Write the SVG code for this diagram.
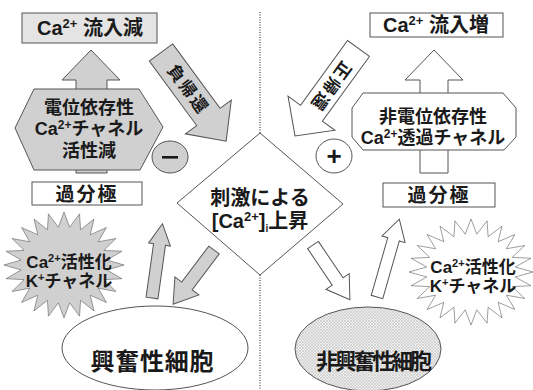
<svg xmlns="http://www.w3.org/2000/svg" width="533" height="390" viewBox="0 0 533 390">
<style>
text{font-family:"Liberation Sans","Noto Sans CJK JP",sans-serif;font-weight:bold;fill:#1a1a1a;text-anchor:middle}
.shape{stroke:#555;stroke-width:1}
.gray{fill:#d0d0d0}
.lgray{fill:#e4e4e4}
.white{fill:#fff}
.star{vector-effect:non-scaling-stroke}
</style>
<defs>
<polygon id="starshape" points="100,0 71.4,9.4 96.6,25.9 66.5,27.6 86.6,50 57.1,43.8 70.7,70.7 43.8,57.1 50,86.6 27.6,66.5 25.9,96.6 9.4,71.4 0,100 -9.4,71.4 -25.9,96.6 -27.6,66.5 -50,86.6 -43.8,57.1 -70.7,70.7 -57.1,43.8 -86.6,50 -66.5,27.6 -96.6,25.9 -71.4,9.4 -100,0 -71.4,-9.4 -96.6,-25.9 -66.5,-27.6 -86.6,-50 -57.1,-43.8 -70.7,-70.7 -43.8,-57.1 -50,-86.6 -27.6,-66.5 -25.9,-96.6 -9.4,-71.4 0,-100 9.4,-71.4 25.9,-96.6 27.6,-66.5 50,-86.6 43.8,-57.1 70.7,-70.7 57.1,-43.8 86.6,-50 66.5,-27.6 96.6,-25.9 71.4,-9.4"/>
<pattern id="hatch" width="3" height="3" patternUnits="userSpaceOnUse">
<rect width="3" height="3" fill="#eeeeee"/>
<path d="M0,3 L3,0 M0,0 L3,3" stroke="#bcbcbc" stroke-width="0.5"/>
</pattern>
</defs>

<g id="divider">
<line x1="260" y1="12" x2="260" y2="133" stroke="#444" stroke-width="1.2" stroke-dasharray="1 1.5"/>
<line x1="260" y1="275" x2="260" y2="390" stroke="#444" stroke-width="1.2" stroke-dasharray="1 1.5"/>
</g>

<g id="connectors">
<polygon class="shape gray" points="76,173 76,80 62,80 91,50 120,80 107,80 107,173"/>
<polygon class="shape white" points="420,173 420,80 405,80 434,50 463,80 448,80 448,173"/>
<g transform="translate(161,52.5) rotate(53.7)">
<polygon class="shape gray" points="0,-14.5 80,-14.5 80,-28.5 110,0 80,28.5 80,14.5 0,14.5"/>
<text x="46" y="6" font-size="17" letter-spacing="2">負帰還</text>
</g>
<g transform="translate(358.5,48.5) rotate(126)">
<polygon class="shape white" points="0,-13.5 80,-13.5 80,-29 108,0 80,29 80,13.5 0,13.5"/>
<text x="47" y="6" font-size="17" letter-spacing="2">正帰還</text>
</g>
<g transform="translate(152,298) rotate(-82)">
<polygon class="shape gray" points="0,-6 54,-6 54,-11 75,0 54,11 54,6 0,6"/>
</g>
<g transform="translate(214,250) rotate(127)">
<polygon class="shape gray" points="0,-6.5 45,-6.5 45,-15 68,0 45,15 45,6.5 0,6.5"/>
</g>
<g transform="translate(313,245) rotate(56)">
<polygon class="shape white" points="0,-6.5 44,-6.5 44,-14 66,0 44,14 44,6.5 0,6.5"/>
</g>
<g transform="translate(377,297) rotate(-74)">
<polygon class="shape white" points="0,-6 60,-6 60,-12 81,0 60,12 60,6 0,6"/>
</g>
</g>

<g id="influx-decrease">
<rect class="shape lgray" x="22" y="13" width="135" height="30"/>
<text x="90" y="35" font-size="20">Ca<tspan font-size="13" dy="-7">2+</tspan><tspan dy="7"> 流入減</tspan></text>
</g>

<g id="influx-increase">
<rect class="shape white" x="370" y="13" width="133" height="24"/>
<text x="436" y="32" font-size="20">Ca<tspan font-size="13" dy="-7">2+</tspan><tspan dy="7"> 流入増</tspan></text>
</g>

<g id="vdcc">
<polygon class="shape gray" points="15,128 34,89 139,89 163,127 140,170 34,170"/>
<text x="89" y="114" font-size="18">電位依存性</text>
<text x="89" y="135" font-size="18">Ca<tspan font-size="12" dy="-6">2+</tspan><tspan dy="6">チャネル</tspan></text>
<text x="89" y="157" font-size="18">活性減</text>
</g>

<g id="non-vdcc">
<polygon class="shape white" points="363,93 503,93 516,108 516,137 504,150 363,150 352,137 352,108"/>
<text x="433" y="123" font-size="18">非電位依存性</text>
<text x="433" y="144" font-size="18">Ca<tspan font-size="12" dy="-6">2+</tspan><tspan dy="6">透過チャネル</tspan></text>
</g>

<g id="minus">
<ellipse class="shape gray" cx="170" cy="157" rx="18" ry="16"/>
<rect x="162" y="156" width="16" height="2.6" fill="#1a1a1a"/>
</g>

<g id="plus">
<ellipse class="shape white" cx="334" cy="156" rx="18" ry="17"/>
<text x="334" y="165" font-size="26">+</text>
</g>

<g id="stimulus">
<polygon class="shape white" points="260,133 343,204 260,275 177,203"/>
<text x="260" y="205" font-size="20">刺激による</text>
<text x="260" y="228" font-size="20">[Ca<tspan font-size="13" dy="-7">2+</tspan><tspan dy="7">]</tspan><tspan font-size="10" dy="4">i</tspan><tspan dy="-4">上昇</tspan></text>
</g>

<g id="hyperpol-left">
<rect class="shape white" x="32" y="182" width="110" height="23"/>
<text x="87" y="201" font-size="19" letter-spacing="2">過分極</text>
</g>

<g id="hyperpol-right">
<rect class="shape white" x="383" y="183" width="112" height="24"/>
<text x="439" y="202" font-size="19" letter-spacing="2">過分極</text>
</g>

<g id="bk-left">
<use href="#starshape" class="shape gray star" transform="translate(64,265) scale(0.6,0.53)"/>
<text x="69" y="268" font-size="17">Ca<tspan font-size="11" dy="-6">2+</tspan><tspan dy="6">活性化</tspan></text>
<text x="69" y="287" font-size="17">K<tspan font-size="11" dy="-6">+</tspan><tspan dy="6">チャネル</tspan></text>
</g>

<g id="bk-right">
<use href="#starshape" class="shape white star" transform="translate(471,272) scale(0.62,0.53)"/>
<text x="473" y="273" font-size="17">Ca<tspan font-size="11" dy="-6">2+</tspan><tspan dy="6">活性化</tspan></text>
<text x="473" y="292" font-size="17">K<tspan font-size="11" dy="-6">+</tspan><tspan dy="6">チャネル</tspan></text>
</g>

<g id="excitable">
<ellipse class="shape white" cx="155" cy="348" rx="93" ry="42"/>
<text x="152" y="370" font-size="24" textLength="123" lengthAdjust="spacing">興奮性細胞</text>
</g>

<g id="non-excitable">
<ellipse class="shape" fill="url(#hatch)" cx="368" cy="349" rx="73" ry="42"/>
<text x="374" y="369" font-size="22" textLength="116" lengthAdjust="spacing">非興奮性細胞</text>
</g>
</svg>
